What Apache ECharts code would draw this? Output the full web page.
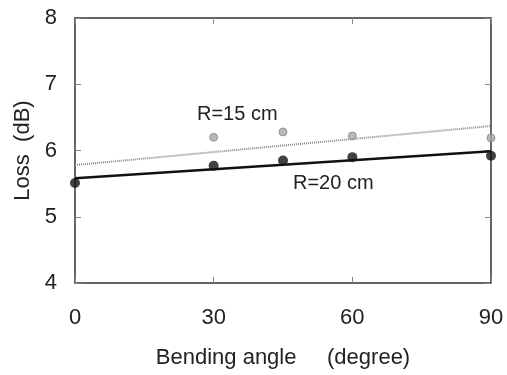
<!DOCTYPE html>
<html>
<head>
<meta charset="utf-8">
<script src="https://cdn.jsdelivr.net/npm/echarts@6/dist/echarts.min.js"></script>
<style>
  html, body { margin: 0; padding: 0; background: #fff; }
  #chart { width: 507px; height: 375px; }
</style>
</head>
<body>
<div id="chart"></div>
<script>
// Bending angle (degree) of the measured points
const angles = [0, 30, 45, 60, 90];
// Measured loss (dB) for bending radius 15 cm (no point at 0)
const lossR15 = [null, 6.20, 6.28, 6.22, 6.19];
// Measured loss (dB) for bending radius 20 cm
const lossR20 = [5.51, 5.77, 5.85, 5.90, 5.92];
// Linear fit end points, at 0 and 90 degrees
const fitAngles = [0, 90];
const fitR15 = [5.78, 6.37];
const fitR20 = [5.58, 5.99];
// Axis ticks
const xTicks = [0, 30, 60, 90];
const yTicks = [4, 5, 6, 7, 8];

const pairs = (xs, ys) => xs.map((x, i) => [x, ys[i]]).filter(p => p[1] !== null);

const font = 'Liberation Sans, Arial, sans-serif';
const axisColor = '#333';

function xAxisDef(pos, showLabels) {
  return {
    type: 'value', position: pos,
    min: xTicks[0], max: xTicks[xTicks.length - 1], interval: xTicks[1] - xTicks[0],
    axisLine: { show: true, onZero: false, lineStyle: { color: axisColor, width: 1.5 } },
    axisTick: { show: true, inside: true, length: 6, lineStyle: { color: '#888', width: 1 } },
    axisLabel: { show: showLabels, color: '#222', fontSize: 22, fontFamily: font, margin: 24 },
    splitLine: { show: false }
  };
}
function yAxisDef(pos, showLabels) {
  return {
    type: 'value', position: pos,
    min: yTicks[0], max: yTicks[yTicks.length - 1], interval: yTicks[1] - yTicks[0],
    axisLine: { show: true, onZero: false, lineStyle: { color: axisColor, width: 1.5 } },
    axisTick: { show: true, inside: true, length: 6, lineStyle: { color: '#888', width: 1 } },
    axisLabel: { show: showLabels, color: '#222', fontSize: 22, fontFamily: font, margin: 18 },
    splitLine: { show: false }
  };
}

const chart = echarts.init(document.getElementById('chart'), null, { renderer: 'canvas' });
chart.setOption({
  animation: false,
  backgroundColor: '#fff',
  grid: { left: 75, right: 16, top: 18, bottom: 92 },
  xAxis: [
    Object.assign(xAxisDef('bottom', true), {
      name: 'Bending angle     (degree)', nameLocation: 'middle', nameGap: 64,
      nameTextStyle: { color: '#222', fontSize: 22, fontFamily: font }
    }),
    xAxisDef('top', false)
  ],
  yAxis: [
    Object.assign(yAxisDef('left', true), {
      name: 'Loss  (dB)', nameLocation: 'middle', nameGap: 41,
      nameTextStyle: { color: '#222', fontSize: 22, fontFamily: font }
    }),
    yAxisDef('right', false)
  ],
  series: [
    {
      type: 'line', data: pairs(fitAngles, fitR15), showSymbol: false, symbol: 'none',
      lineStyle: { color: '#8a8a8a', width: 2, type: [1, 1] }, z: 2
    },
    {
      type: 'line', data: pairs(fitAngles, fitR20), showSymbol: false, symbol: 'none',
      lineStyle: { color: '#111', width: 2.5 }, z: 2
    },
    {
      type: 'scatter', data: pairs(angles, lossR15), symbol: 'circle', symbolSize: 8,
      itemStyle: { color: '#a8a8a8', borderColor: '#888', borderWidth: 1 }, z: 3
    },
    {
      type: 'scatter', data: pairs(angles, lossR20), symbol: 'circle', symbolSize: 10,
      itemStyle: { color: '#111' }, z: 4
    }
  ],
  graphic: [
    { type: 'text', left: 197, top: 104, style: { text: 'R=15 cm', fill: '#222', font: '20px ' + font } },
    { type: 'text', left: 293, top: 173, style: { text: 'R=20 cm', fill: '#222', font: '20px ' + font } }
  ]
});
</script>
</body>
</html>
